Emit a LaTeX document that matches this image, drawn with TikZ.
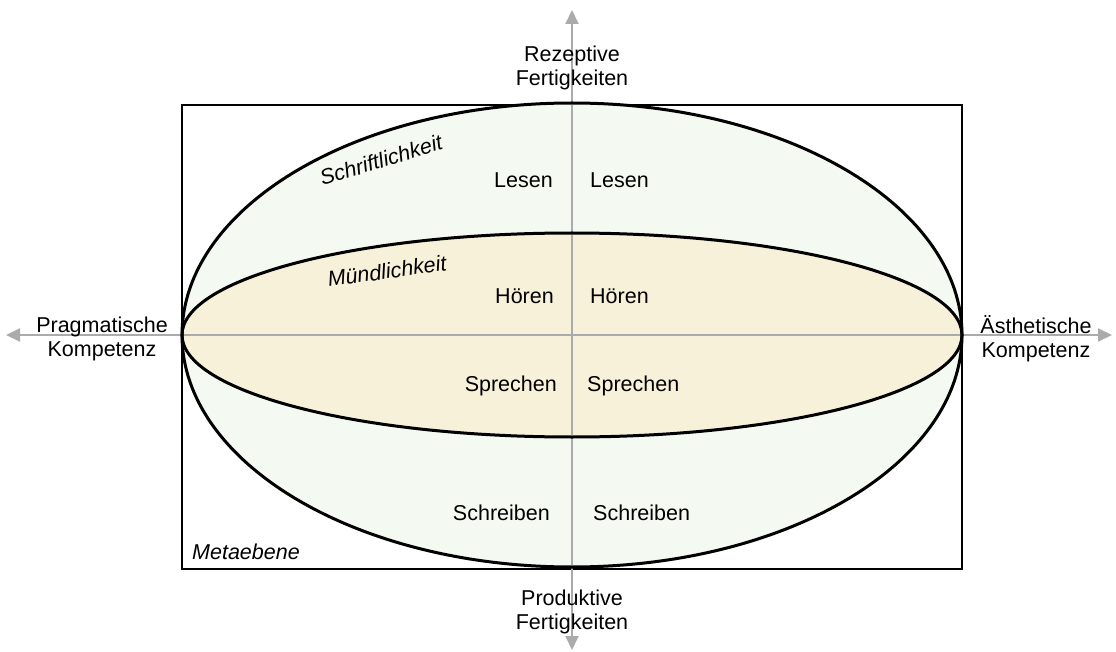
\documentclass[tikz,border=0pt]{standalone}
\usepackage{fontspec}
\setmainfont{Liberation Sans}
\usetikzlibrary{arrows.meta}

\definecolor{schriftfill}{HTML}{F4F9F1}
\definecolor{muendfill}{HTML}{F7F1DA}
\definecolor{axisgray}{HTML}{ABABAB}

\tikzset{
  axis/.style={draw=axisgray, line width=2pt, {Triangle[width=13pt,length=14pt]}-{Triangle[width=13pt,length=14pt]}},
  rim/.style={line width=3pt},
  lbl/.style={font=\fontsize{21.5}{24}\selectfont, align=center, inner sep=0pt},
  slbl/.style={lbl, font=\fontsize{21.5}{24}\selectfont\itshape}
}

\begin{document}
\begin{tikzpicture}[x=1pt, y=-1pt]

\def \cx {572}
\def \cy {335}
\def \rx {390}
\def \ryout {232}
\def \ryin {102}

\useasboundingbox (0,0) rectangle (1116,652);

% Metaebene
\node[draw, line width=1.3pt, minimum width=780pt, minimum height=464pt, inner sep=0pt] (meta) at (\cx,337) {};
\node[slbl, anchor=south west] (metalbl) at (192,560) {Metaebene};

% fills
\fill[schriftfill] (\cx,\cy) ellipse [x radius=\rx, y radius=\ryout];
\fill[muendfill] (\cx,\cy) ellipse [x radius=\rx, y radius=\ryin];

% axes
\coordinate (top) at (\cx,10);
\coordinate (bottom) at (\cx,650);
\coordinate (left) at (6,\cy);
\coordinate (right) at (1112,\cy);
\draw[axis] (bottom) -- (top);
\draw[axis] (left) -- (right);

% rims
\draw[rim] (\cx,\cy) ellipse [x radius=\rx, y radius=\ryout];
\draw[rim] (\cx,\cy) ellipse [x radius=\rx, y radius=\ryin];

% axis labels
\node[lbl] (rez) at (\cx,68) {Rezeptive\\Fertigkeiten};
\node[lbl] (prod) at (\cx,612) {Produktive\\Fertigkeiten};
\node[lbl] (prag) at (102,339) {Pragmatische\\Kompetenz};
\node[lbl] (aesth) at (1036,339) {Ästhetische\\Kompetenz};

% skills: height / name / gap left / gap right (from the vertical axis)
\foreach \y/\skill/\gl/\gr in {180/Lesen/19/18, 296/Hören/18/18, 386/Sprechen/15/15, 513/Schreiben/22/21}
{
  \node[lbl, anchor=east] (\skill-l) at (\cx-\gl,\y) {\skill};
  \node[lbl, anchor=west] (\skill-r) at (\cx+\gr,\y) {\skill};
}

\node[slbl, rotate=17] (schrift) at (381,160) {Schriftlichkeit};
\node[slbl, rotate=8] (muend) at (387,271) {Mündlichkeit};

\end{tikzpicture}
\end{document}
